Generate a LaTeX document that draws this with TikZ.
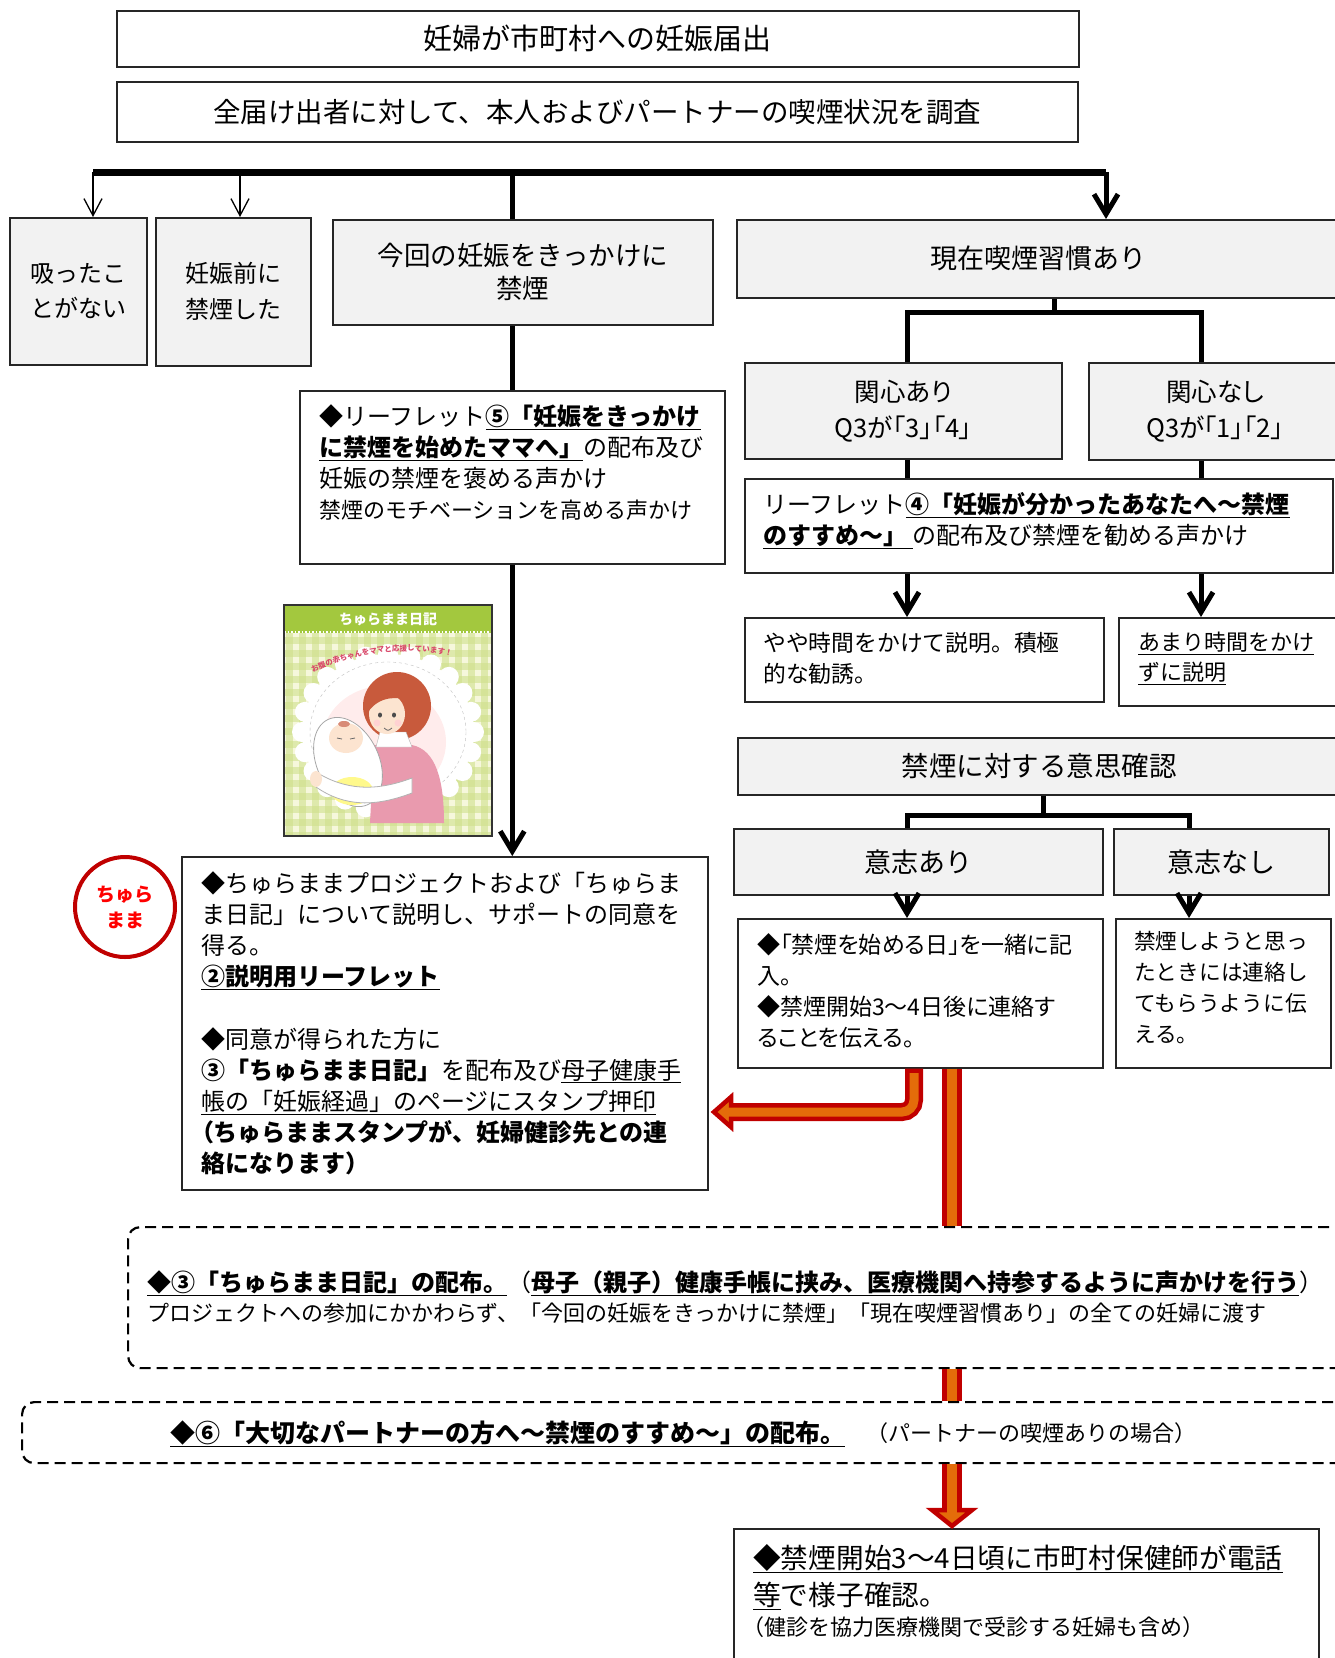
\documentclass[tikz,border=0pt]{standalone}
\usepackage{fontspec}
\setmainfont{Noto Sans CJK JP}
\newfontfamily\propfont{Noto Sans CJK JP}[RawFeature=+palt]
\usetikzlibrary{arrows.meta,calc,decorations.text}

\definecolor{boxgray}{HTML}{F2F2F2}
\definecolor{darkred}{HTML}{C00000}
\definecolor{floworange}{HTML}{E46C0A}
\definecolor{markred}{HTML}{FF0000}
\definecolor{covergreen}{HTML}{A3C83E}
\definecolor{covercheck}{HTML}{CFE08C}
\definecolor{covercream}{HTML}{F6F7DC}
\definecolor{hairred}{HTML}{C85A3C}
\definecolor{skin}{HTML}{FCE4D0}
\definecolor{dresspink}{HTML}{E99AAE}
\definecolor{coverpink}{HTML}{D9486A}

\newcommand{\ulbf}[1]{\underline{\textbf{#1}}}
\newcommand{\uln}[1]{\underline{#1}}

\begin{document}
\begin{tikzpicture}[x=1pt,y=-1pt,
  every node/.style={inner sep=0pt},
  box/.style={draw=black!85, line width=1.6pt, anchor=north west},
  graybox/.style={box, fill=boxgray, align=center},
  txt/.style={anchor=north west, align=left},
  dashbox/.style={draw=black, line width=2.2pt, dash pattern=on 11pt off 6pt, rounded corners=12pt, anchor=north west},
  bus/.style={line width=7pt},
  heavyline/.style={line width=5pt},
  thinarrow/.style={line width=1.3pt, -{Straight Barb[length=17pt,width=18pt]}},
  bigarrow/.style={line width=5pt, -{Straight Barb[length=20pt,width=24pt]}},
  redshaft/.style={draw=darkred, line width=18pt},
  orangeshaft/.style={draw=floworange, line width=9pt},
  redhead/.style={fill=floworange, draw=darkred, line width=4.5pt, line join=miter}]

\useasboundingbox (0,0) rectangle (1334,1658);

% notification and survey
\node[box, minimum width=962pt, minimum height=56pt, font=\fontsize{29}{29}\selectfont] (notify) at (116,10) {妊婦が市町村への妊娠届出};
\node[box, minimum width=961pt, minimum height=60pt, font=\fontsize{27.5}{27.5}\selectfont] (survey) at (116,81) {全届け出者に対して、本人およびパートナーの喫煙状況を調査};

% four groups
\node[graybox, minimum width=137pt, minimum height=147pt, font=\fontsize{24}{35}\selectfont] (never) at (9,217) {吸ったこ\\とがない};
\node[graybox, minimum width=155pt, minimum height=148pt, font=\fontsize{24}{36}\selectfont] (before) at (155,217) {妊娠前に\\禁煙した};
\node[graybox, minimum width=380pt, minimum height=105pt, font=\fontsize{26.5}{33}\selectfont] (kaisai) at (332,219) {今回の妊娠をきっかけに\\禁煙};
\node[graybox, minimum width=604pt, minimum height=78pt, font=\fontsize{27}{27}\selectfont] (smoke) at (736,219) {現在喫煙習慣あり};

\coordinate (busL) at (93,172);
\coordinate (busB) at (240,172);
\coordinate (busK) at (512,172);
\coordinate (busR) at (1106,172);
\draw[bus] (busL) -- (busR);
\draw[thinarrow] (busL) -- (busL |- never.north);
\draw[thinarrow] (busB) -- (busB |- before.north);
\draw[heavyline] (busK) -- (busK |- kaisai.north);
\draw[bigarrow] (busR) -- (busR |- smoke.north);

% quit with this pregnancy
\node[box, minimum width=425pt, minimum height=173pt] (lf5) at (299,390) {};
\node[txt, font=\fontsize{24}{31}\selectfont] (lf5text) at (319,404) {◆リーフレット\ulbf{⑤「妊娠をきっかけ}\\\ulbf{に禁煙を始めたママへ」}の配布及び\\妊娠の禁煙を褒める声かけ\\{\fontsize{22}{31}\selectfont 禁煙のモチベーションを高める声かけ}};
\draw[heavyline] (busK |- kaisai.south) -- (busK |- lf5.north);

% diary cover
\begin{scope}
\clip (284,605) rectangle (492,836);
\fill[covercream] (284,605) rectangle (492,836);
\foreach \i in {0,...,16}
  \fill[covercheck, opacity=0.6] ({286+13*\i},633) rectangle ++(6.5,203);
\foreach \j in {0,...,15}
  \fill[covercheck, opacity=0.6] (284,{637+13*\j}) rectangle ++(208,6.5);
\fill[covergreen] (284,605) rectangle (492,633);
\draw[white, line width=1.5pt, dotted] (284,632) -- (492,632);
\foreach \a in {0,15,...,345}
  \fill[white] ({388+86*cos(\a)},{732+78*sin(\a)}) circle (10);
\fill[white] (388,732) ellipse (86 and 78);
\draw[black!25, dashed] (388,732) ellipse (78 and 70);
\fill[pink!30] (384,742) ellipse (62 and 56);
% mother
\fill[hairred] (397,706) ellipse (34 and 34);
\fill[dresspink] (374,745) -- (412,745) .. controls (436,750) and (444,780) .. (444,823) -- (370,823) -- cycle;
\fill[white, draw=black!30] (380,732) -- (406,732) -- (412,747) -- (376,747) -- cycle;
\fill[skin] (387,714) ellipse (18 and 20);
\fill[hairred] (368,712) .. controls (366,686) and (394,678) .. (411,700) .. controls (398,697) and (380,695) .. cycle;
\fill[black!70] (380,715) ellipse (2 and 2.5);
\fill[black!70] (394,715) ellipse (2 and 2.5);
\fill[pink!70] (377,723) circle (3.5);
\fill[pink!70] (398,723) circle (3.5);
\draw[black!60, line width=0.8pt] (384,728) .. controls (388,731) .. (392,728);
% baby
\fill[white, draw=black!35, line width=0.8pt, rotate around={25:(348,762)}] (348,762) ellipse (31 and 47);
\fill[yellow!45] (352,791) ellipse (21 and 14);
\fill[skin] (346,738) ellipse (17 and 15);
\fill[hairred!70] (344,724) ellipse (6 and 3);
\draw[black!60, line width=0.8pt] (337,738) -- (342,739);
\draw[black!60, line width=0.8pt] (350,739) -- (355,738);
\fill[white, draw=black!30, line width=0.8pt] (316,772) .. controls (345,790) and (375,792) .. (412,778) -- (412,793) .. controls (375,807) and (345,807) .. (316,787) -- cycle;
\fill[skin] (316,779) ellipse (6 and 8);
\path[decorate, decoration={text along path, text align=center, text color=coverpink,
  text={|\bfseries\fontsize{7.5}{7.5}\selectfont|お腹の赤ちゃんをママと応援しています！}}]
  (300,680) .. controls (345,652) and (410,642) .. (466,660);
\end{scope}
\draw[black!80, line width=1.5pt] (284,605) rectangle (492,836);
\node[font=\bfseries\fontsize{14}{14}\selectfont, text=white] (covertitle) at (388,619) {ちゅらまま日記};

% project explanation
\node[box, minimum width=526pt, minimum height=333pt] (chura) at (181,856) {};
\node[txt, font=\fontsize{24}{31.2}\selectfont] (churatext) at (201,871) {◆ちゅらままプロジェクトおよび「ちゅらま\\ま日記」について説明し、サポートの同意を\\得る。\\\ulbf{②説明用リーフレット}\\[31.2pt]◆同意が得られた方に\\\textbf{③「ちゅらまま日記」}を配布及び\uln{母子健康手}\\\uln{帳の「妊娠経過」のページにスタンプ押印}\\\textbf{{\propfont （}ちゅらままスタンプが、妊婦健診先との連}\\\textbf{絡になります）}};
\node[circle, draw=darkred, line width=4pt, minimum size=100pt, text=markred, align=center, font=\bfseries\fontsize{19}{26}\selectfont] (churamark) at (125,907) {ちゅら\\まま};
\draw[bigarrow] (lf5.south) -- (lf5.south |- chura.north);

% current smokers
\node[graybox, minimum width=317pt, minimum height=96pt, font=\propfont\fontsize{25.5}{36}\selectfont] (int) at (744,362) {関心あり\\Q3が「3」「4」};
\node[graybox, minimum width=252pt, minimum height=97pt, font=\propfont\fontsize{25.5}{36}\selectfont] (noint) at (1088,362) {関心なし\\Q3が「1」「2」};
\node[box, minimum width=588pt, minimum height=94pt] (lf4) at (744,478) {};
\node[txt, font=\fontsize{24}{31}\selectfont] (lf4text) at (763,492) {リーフレット\ulbf{④「妊娠が分かったあなたへ～禁煙}\\\ulbf{のすすめ～」\ }の配布及び禁煙を勧める声かけ};
\node[box, minimum width=359pt, minimum height=84pt] (yaya) at (744,617) {};
\node[txt, font=\fontsize{22.8}{31}\selectfont] (yayatext) at (763,632) {やや時間をかけて説明。積極\\的な勧誘。};
\node[box, minimum width=222pt, minimum height=88pt] (amari) at (1118,617) {};
\node[txt, font=\fontsize{22}{30}\selectfont] (amaritext) at (1138,632) {\uln{あまり時間をかけ}\\\uln{ずに説明}};

\coordinate (jS) at (1054,312);
\coordinate (jA) at (907,312);
\coordinate (jB) at (1201,312);
\draw[heavyline] (jS |- smoke.south) -- (jS);
\draw[heavyline] (jA |- int.north) -- (jA) -- (jB) -- (jB |- noint.north);
\draw[heavyline] (jA |- int.south) -- (jA |- lf4.north);
\draw[heavyline] (jB |- noint.south) -- (jB |- lf4.north);
\draw[bigarrow] (jA |- lf4.south) -- (jA |- yaya.north);
\draw[bigarrow] (jB |- lf4.south) -- (jB |- amari.north);

% will to quit
\node[graybox, minimum width=603pt, minimum height=57pt, font=\fontsize{27.5}{27.5}\selectfont] (ishi) at (737,737) {禁煙に対する意思確認};
\node[graybox, minimum width=369pt, minimum height=66pt, font=\fontsize{27}{27}\selectfont] (yes) at (733,828) {意志あり};
\node[graybox, minimum width=215pt, minimum height=66pt, font=\fontsize{27}{27}\selectfont] (no) at (1113,828) {意志なし};
\node[box, minimum width=365pt, minimum height=149pt] (yesplan) at (737,918) {};
\node[txt, font=\propfont\fontsize{23}{31}\selectfont] (yesplantext) at (757,933) {◆「禁煙を始める日」を一緒に記\\入。\\◆禁煙開始3～4日後に連絡す\\ることを伝える。};
\node[box, minimum width=215pt, minimum height=149pt] (noplan) at (1115,918) {};
\node[txt, font=\fontsize{21.7}{31}\selectfont] (noplantext) at (1134,931) {禁煙しようと思っ\\たときには連絡し\\てもらうように伝\\える。};

\coordinate (kS) at (1043,815);
\coordinate (kA) at (907,815);
\coordinate (kB) at (1189,815);
\draw[heavyline] (kS |- ishi.south) -- (kS);
\draw[heavyline] (kA |- yes.north) -- (kA) -- (kB) -- (kB |- no.north);
\draw[bigarrow] (kA |- yes.south) -- (kA |- yesplan.north);
\draw[bigarrow] (kB |- no.south) -- (kB |- noplan.north);

% diary and partner leaflet
\node[dashbox, minimum width=1230pt, minimum height=141pt] (diary) at (127,1226) {};
\node[txt, font=\fontsize{24}{24}\selectfont] (diarytext) at (147,1270) {\ulbf{◆③「ちゅらまま日記」の配布。}（\ulbf{母子（親子）健康手帳に挟み、医療機関へ持参するように声かけを行う}）};
\node[txt, font=\fontsize{22}{22}\selectfont] (diarynote) at (147,1303) {プロジェクトへの参加にかかわらず、「今回の妊娠をきっかけに禁煙」「現在喫煙習慣あり」の全ての妊婦に渡す};
\node[dashbox, minimum width=1340pt, minimum height=61pt] (partner) at (21,1401) {};
\node[txt, font=\fontsize{25}{25}\selectfont] (partnertext) at (170,1420.5) {\ulbf{◆⑥「大切なパートナーの方へ～禁煙のすすめ～」の配布。}};
\node[txt, font=\fontsize{22}{22}\selectfont] (partnernote) at (866,1422) {（パートナーの喫煙ありの場合）};

% follow-up call
\node[box, minimum width=585pt, minimum height=142pt] (followup) at (733,1528) {};
\node[txt, font=\fontsize{27.7}{37}\selectfont] (followuptext) at (753,1544) {\uln{◆禁煙開始3～4日頃に市町村保健師が電話}\\\uln{等}で様子確認。};
\node[txt, font=\fontsize{22}{22}\selectfont] (followupnote) at (742,1616) {（健診を協力医療機関で受診する妊婦も含め）};

% red arrows
\coordinate (bend) at (914,1112);
\coordinate (backhead) at (729,1112);
\draw[redshaft, rounded corners=12pt] (bend |- yesplan.south) -- (bend) -- (backhead);
\draw[redhead] ($(backhead)+(2,-15)$) -- ($(backhead)+(-15,0)$) -- ($(backhead)+(2,15)$) -- cycle;
\draw[orangeshaft, rounded corners=12pt] ($(bend |- yesplan.south)+(0,4.5)$) -- (bend) -- ($(backhead)+(-3,0)$);

\coordinate (mainx) at (952,0);
\draw[redshaft, line width=20pt] (mainx |- yesplan.south) -- (mainx |- diary.north);
\draw[orangeshaft, line width=10pt] (mainx |- yesplan.south) -- (mainx |- diary.north);
\draw[redshaft, line width=20pt] (mainx |- diary.south) -- (mainx |- partner.north);
\draw[orangeshaft, line width=10pt] (mainx |- diary.south) -- (mainx |- partner.north);
\draw[redshaft, line width=20pt] (mainx |- partner.south) -- ($(mainx |- followup.north)+(0,-18)$);
\draw[redhead] ($(mainx |- followup.north)+(-20,-18)$) -- ($(mainx |- followup.north)+(20,-18)$) -- ($(mainx |- followup.north)+(0,-2)$) -- cycle;
\draw[orangeshaft, line width=10pt] (mainx |- partner.south) -- ($(mainx |- followup.north)+(0,-14)$);

\end{tikzpicture}
\end{document}
